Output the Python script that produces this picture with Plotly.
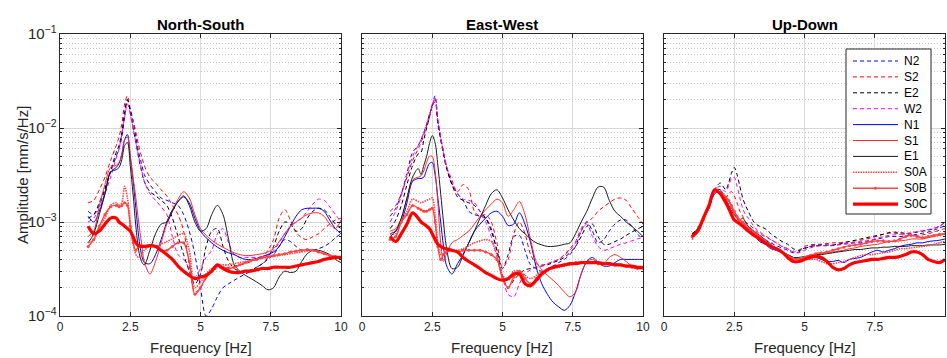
import plotly.graph_objects as go

# Frequency grid [Hz]
freq = [1.0, 1.2, 1.4, 1.6, 1.8, 2.0,
        2.1, 2.2, 2.3, 2.4, 2.5, 2.6, 2.7, 2.8, 2.9, 3.0,
        3.2, 3.4, 3.6, 3.8, 4.0, 4.2, 4.4, 4.6, 4.8, 5.0,
        5.2, 5.4, 5.6, 5.8, 6.0, 6.2, 6.4, 6.6, 6.8, 7.0,
        7.2, 7.4, 7.6, 7.8, 8.0, 8.2, 8.4, 8.6, 8.8, 9.0,
        9.2, 9.4, 9.6, 9.8, 10.0]

panel_titles = ["North-South", "East-West", "Up-Down"]
series_names = ["N2", "S2", "E2", "W2", "N1", "S1", "E1", "S0A", "S0B", "S0C"]
x_tick_vals = [0, 2.5, 5, 7.5, 10]
x_tick_text = ["0", "2.5", "5", "7.5", "10"]

# Amplitudes in units of 1e-3 mm/s/Hz
# ---------------- North-South ----------------
ns_N2 = [1.3, 1.2, 1.5, 2.2, 3.4, 5.0,
         6.0, 8.0, 13, 20, 16, 12, 8.0, 5.5, 4.2, 3.2,
         2.5, 2.1, 1.8, 1.7, 1.6, 1.5, 1.2, 0.8, 0.45, 0.2,
         0.1, 0.12, 0.16, 0.2, 0.22, 0.24, 0.26, 0.28, 0.3, 0.33,
         0.36, 0.4, 0.45, 0.55, 0.65, 0.62, 0.55, 0.5, 0.5, 0.5,
         0.52, 0.55, 0.6, 0.68, 0.75]
ns_S2 = [1.6, 1.7, 2.2, 3.0, 4.5, 6.5,
         8.0, 11, 18, 22, 15, 12, 9.0, 6.5, 5.0, 4.0,
         3.0, 2.6, 2.2, 1.9, 1.5, 1.2, 0.8, 0.35, 0.18, 0.2,
         0.25, 0.3, 0.32, 0.33, 0.33, 0.34, 0.35, 0.36, 0.38, 0.4,
         0.42, 0.5, 0.65, 1.1, 1.35, 1.05, 0.78, 0.68, 0.65, 0.7,
         0.75, 0.85, 0.95, 1.05, 1.1]
ns_E2 = [1.1, 1.2, 1.6, 2.3, 3.5, 5.5,
         6.5, 9.0, 15, 20, 15, 10, 7.0, 4.8, 3.5, 2.7,
         2.1, 1.9, 1.7, 1.5, 1.1, 0.7, 0.45, 0.3, 0.22, 0.28,
         0.55, 0.8, 0.85, 0.55, 0.38, 0.32, 0.3, 0.3, 0.31, 0.33,
         0.36, 0.42, 0.55, 0.8, 1.0, 0.95, 0.8, 0.85, 1.1, 1.3,
         1.4, 1.35, 1.15, 0.95, 0.85]
ns_W2 = [1.0, 1.1, 1.4, 2.0, 3.0, 4.8,
         6.0, 8.5, 13, 18, 14, 10, 7.0, 5.0, 3.6, 2.7,
         2.0, 1.7, 1.45, 1.2, 0.7, 0.45, 0.4, 0.32, 0.26, 0.32,
         0.42, 0.5, 0.75, 0.85, 0.6, 0.45, 0.42, 0.42, 0.42, 0.42,
         0.43, 0.45, 0.5, 0.6, 0.75, 0.9, 1.0, 1.1, 1.3, 1.55,
         1.75, 1.7, 1.45, 1.2, 1.0]
ns_N1 = [1.15, 1.0, 1.3, 2.0, 3.4, 3.8,
         4.2, 5.2, 7.5, 8.5, 5.0, 2.8, 1.4, 0.7, 0.45, 0.37,
         0.36, 0.45, 0.65, 1.0, 1.35, 1.65, 1.85, 1.6, 1.1, 0.8,
         0.68, 0.6, 0.54, 0.5, 0.47, 0.45, 0.42, 0.4, 0.4, 0.41,
         0.43, 0.45, 0.48, 0.55, 0.7, 0.9, 1.15, 1.35, 1.4, 1.4,
         1.4, 1.3, 1.05, 0.85, 0.75]
ns_S1 = [0.7, 0.8, 1.5, 2.5, 3.8, 4.0,
         4.3, 5.3, 7.5, 8.0, 5.0, 3.0, 1.8, 1.0, 0.6, 0.38,
         0.28, 0.38, 0.6, 0.95, 1.3, 1.75, 2.1, 1.8, 1.2, 0.85,
         0.72, 0.64, 0.58, 0.54, 0.5, 0.47, 0.45, 0.44, 0.44, 0.45,
         0.46, 0.48, 0.52, 0.62, 0.75, 0.9, 1.0, 1.1, 1.2, 1.25,
         1.25, 1.15, 0.95, 0.85, 1.05]
ns_E1 = [0.6, 0.75, 1.2, 2.0, 3.4, 3.6,
         3.8, 4.6, 6.5, 7.0, 4.0, 2.0, 0.9, 0.5, 0.38, 0.35,
         0.5, 0.75, 0.95, 1.0, 1.3, 1.65, 1.9, 1.5, 1.0, 0.8,
         0.85, 1.2, 1.5, 1.2, 0.65, 0.35, 0.3, 0.27, 0.25, 0.23,
         0.21, 0.19, 0.2, 0.26, 0.3, 0.29, 0.3, 0.38, 0.46, 0.5,
         0.5, 0.48, 0.45, 0.4, 0.37]
ns_S0A = [0.6, 0.65, 0.9, 1.1, 1.5, 1.6,
          1.5, 1.6, 2.4, 1.8, 1.0, 0.6, 0.45, 0.42, 0.45, 0.5,
          0.55, 0.55, 0.58, 0.62, 0.66, 0.72, 0.75, 0.5, 0.2, 0.23,
          0.28, 0.32, 0.34, 0.35, 0.35, 0.36, 0.37, 0.38, 0.39, 0.4,
          0.41, 0.42, 0.43, 0.44, 0.45, 0.46, 0.47, 0.48, 0.49, 0.5,
          0.48, 0.46, 0.44, 0.43, 0.42]
ns_S0B = [0.55, 0.65, 0.9, 1.2, 1.45, 1.5,
          1.45, 1.5, 1.6, 1.5, 0.9, 0.6, 0.5, 0.55, 0.55, 0.55,
          0.56, 0.55, 0.5, 0.5, 0.55, 0.6, 0.6, 0.38, 0.17, 0.2,
          0.26, 0.3, 0.34, 0.33, 0.32, 0.33, 0.35, 0.37, 0.39, 0.4,
          0.42, 0.43, 0.44, 0.45, 0.46, 0.48, 0.49, 0.5, 0.51, 0.5,
          0.48, 0.46, 0.44, 0.43, 0.42]
ns_S0C = [0.9, 0.75, 0.8, 0.95, 1.1, 1.1,
          1.0, 0.95, 0.9, 0.85, 0.8, 0.7, 0.6, 0.56, 0.55, 0.55,
          0.56, 0.55, 0.5, 0.45, 0.4, 0.34, 0.3, 0.27, 0.25, 0.26,
          0.27, 0.3, 0.35, 0.32, 0.3, 0.29, 0.29, 0.3, 0.3, 0.31,
          0.32, 0.32, 0.33, 0.33, 0.33, 0.33, 0.34, 0.35, 0.36, 0.37,
          0.38, 0.4, 0.41, 0.42, 0.42]

# ---------------- East-West ----------------
ew_N2 = [1.15, 1.4, 2.0, 3.3, 5.5, 6.5,
         7.5, 9.0, 11, 14, 17, 22, 12, 8.0, 5.5, 4.0,
         2.6, 2.0, 1.7, 1.3, 1.2, 1.15, 1.1, 0.85, 0.5, 0.32,
         0.45, 0.7, 0.72, 0.5, 0.35, 0.32, 0.3, 0.32, 0.34, 0.37,
         0.4, 0.45, 0.55, 0.8, 1.0, 0.8, 0.6, 0.65, 0.8, 0.95,
         1.05, 1.05, 0.9, 0.75, 0.65]
ew_S2 = [1.3, 1.5, 2.0, 3.0, 4.5, 6.0,
         7.0, 8.5, 10.5, 13, 18, 20, 12, 8.0, 5.5, 4.0,
         2.5, 2.1, 2.5, 2.2, 1.3, 1.15, 1.2, 1.0, 0.6, 0.33,
         0.4, 0.75, 1.0, 0.75, 0.45, 0.36, 0.35, 0.36, 0.38, 0.4,
         0.45, 0.52, 0.62, 0.85, 1.0, 1.1, 1.3, 1.45, 1.6, 1.75,
         1.8, 1.7, 1.4, 1.15, 0.95]
ew_E2 = [0.85, 1.05, 1.5, 2.5, 4.0, 5.3,
         5.5, 7.5, 10, 13, 17, 19, 11, 7.5, 5.2, 3.8,
         2.5, 1.85, 1.7, 1.6, 1.5, 1.3, 1.1, 0.8, 0.5, 0.27,
         0.2, 0.24, 0.28, 0.31, 0.32, 0.33, 0.34, 0.35, 0.37, 0.39,
         0.42, 0.47, 0.55, 0.7, 0.9, 0.95, 0.7, 0.58, 0.58, 0.62,
         0.66, 0.72, 0.78, 0.84, 0.9]
ew_W2 = [1.0, 1.3, 1.9, 3.2, 5.0, 6.5,
         7.5, 9.0, 11, 14, 17, 21, 12, 8.0, 5.5, 4.0,
         2.8, 2.0, 1.75, 1.7, 1.6, 1.3, 1.0, 0.7, 0.42, 0.26,
         0.17, 0.16, 0.22, 0.28, 0.31, 0.33, 0.34, 0.36, 0.38, 0.4,
         0.44, 0.5, 0.6, 0.8, 0.95, 0.7, 0.55, 0.5, 0.52, 0.55,
         0.58, 0.6, 0.63, 0.66, 0.68]
ew_N1 = [0.75, 0.8, 1.0, 1.6, 2.7, 2.9,
         2.9, 3.0, 3.6, 4.2, 4.3, 3.2, 1.8, 1.0, 0.55, 0.35,
         0.28, 0.36, 0.45, 0.6, 0.8, 0.95, 1.1, 1.25, 1.3, 1.15,
         0.92, 0.95, 1.25, 0.95, 0.6, 0.33, 0.22, 0.17, 0.14, 0.125,
         0.115, 0.13, 0.18, 0.28, 0.38, 0.42, 0.37, 0.34, 0.34, 0.37,
         0.4, 0.4, 0.4, 0.4, 0.4]
ew_S1 = [0.8, 0.85, 1.1, 1.8, 2.8, 3.0,
         3.1, 3.5, 4.3, 5.0, 5.0, 3.5, 1.6, 0.6, 0.38, 0.45,
         0.6, 0.65, 0.72, 0.8, 0.95, 1.15, 1.35, 1.55, 1.75, 1.6,
         1.15, 1.35, 1.65, 1.2, 0.65, 0.38, 0.31, 0.27, 0.24, 0.21,
         0.18, 0.16, 0.18, 0.28, 0.38, 0.4, 0.37, 0.36, 0.42, 0.45,
         0.42, 0.38, 0.34, 0.32, 0.32]
ew_E1 = [0.7, 0.8, 1.1, 1.8, 3.0, 3.7,
         3.2, 4.0, 5.0, 6.8, 8.3, 7.0, 4.0, 2.0, 1.0, 0.55,
         0.32, 0.33, 0.45, 0.6, 0.8, 1.1, 1.5, 2.0, 2.2, 1.8,
         1.35, 1.05, 0.85, 0.75, 0.66, 0.6, 0.57, 0.55, 0.55, 0.56,
         0.58, 0.6, 0.75, 1.0, 1.3, 1.8, 2.35, 2.35, 1.7, 1.3,
         1.15, 1.0, 0.9, 0.8, 0.7]
ew_S0A = [0.75, 0.75, 1.0, 1.3, 1.75, 1.65,
          1.6, 1.65, 1.7, 1.75, 1.8, 1.2, 0.6, 0.45, 0.45, 0.48,
          0.5, 0.5, 0.52, 0.56, 0.6, 0.63, 0.65, 0.62, 0.45, 0.27,
          0.24, 0.3, 0.3, 0.27, 0.25, 0.27, 0.3, 0.31, 0.32, 0.33,
          0.34, 0.35, 0.36, 0.37, 0.37, 0.37, 0.37, 0.36, 0.36, 0.36,
          0.35, 0.34, 0.34, 0.33, 0.33]
ew_S0B = [0.65, 0.7, 1.0, 1.2, 1.5, 1.4,
          1.35, 1.3, 1.3, 1.35, 1.4, 1.0, 0.55, 0.4, 0.45, 0.48,
          0.5, 0.48, 0.5, 0.5, 0.5, 0.5, 0.48, 0.45, 0.4, 0.25,
          0.2, 0.26, 0.3, 0.25, 0.22, 0.25, 0.29, 0.31, 0.33, 0.34,
          0.35, 0.36, 0.37, 0.37, 0.37, 0.37, 0.36, 0.36, 0.36, 0.35,
          0.35, 0.34, 0.33, 0.32, 0.32]
ew_S0C = [0.7, 0.62, 0.75, 0.95, 1.25, 1.1,
          1.0, 0.95, 0.9, 0.85, 0.75, 0.65, 0.58, 0.55, 0.53, 0.52,
          0.5, 0.48, 0.42, 0.38, 0.35, 0.32, 0.29, 0.27, 0.25, 0.24,
          0.25, 0.28, 0.28, 0.22, 0.21, 0.24, 0.28, 0.31, 0.33, 0.34,
          0.35, 0.36, 0.36, 0.37, 0.37, 0.37, 0.37, 0.36, 0.36, 0.35,
          0.35, 0.34, 0.34, 0.33, 0.33]

# ---------------- Up-Down ----------------
ud_N2 = [0.75, 0.85, 1.1, 1.4, 2.0, 2.1,
         1.9, 1.7, 1.55, 1.4, 1.3, 1.15, 1.05, 1.0, 0.95, 0.9,
         0.8, 0.72, 0.65, 0.6, 0.56, 0.53, 0.5, 0.47, 0.48, 0.53,
         0.55, 0.56, 0.56, 0.56, 0.56, 0.57, 0.58, 0.59, 0.6, 0.6,
         0.62, 0.64, 0.66, 0.68, 0.7, 0.7, 0.7, 0.71, 0.72, 0.74,
         0.76, 0.78, 0.82, 0.86, 0.92]
ud_S2 = [0.7, 0.85, 1.1, 1.5, 2.1, 2.0,
         1.9, 1.8, 2.0, 2.1, 1.9, 1.6, 1.3, 1.15, 1.0, 0.95,
         0.85, 0.75, 0.7, 0.65, 0.6, 0.55, 0.52, 0.48, 0.5, 0.55,
         0.57, 0.58, 0.58, 0.59, 0.6, 0.6, 0.61, 0.62, 0.63, 0.64,
         0.66, 0.68, 0.71, 0.74, 0.76, 0.76, 0.75, 0.74, 0.73, 0.72,
         0.73, 0.75, 0.78, 0.82, 0.85]
ud_E2 = [0.75, 0.85, 1.1, 1.5, 2.2, 2.6,
         2.4, 2.2, 2.6, 3.3, 3.8, 3.2, 2.4, 1.8, 1.5, 1.3,
         1.0, 0.9, 0.85, 0.75, 0.68, 0.62, 0.58, 0.52, 0.5, 0.52,
         0.55, 0.56, 0.57, 0.57, 0.57, 0.58, 0.6, 0.62, 0.64, 0.66,
         0.68, 0.7, 0.72, 0.74, 0.77, 0.78, 0.77, 0.76, 0.76, 0.78,
         0.8, 0.82, 0.85, 0.9, 1.0]
ud_W2 = [0.7, 0.85, 1.1, 1.5, 2.2, 2.4,
         2.2, 2.1, 2.4, 2.9, 3.0, 2.4, 1.8, 1.4, 1.2, 1.1,
         0.9, 0.78, 0.72, 0.65, 0.6, 0.55, 0.52, 0.48, 0.47, 0.5,
         0.53, 0.55, 0.56, 0.56, 0.57, 0.58, 0.59, 0.6, 0.61, 0.62,
         0.63, 0.65, 0.67, 0.7, 0.72, 0.73, 0.74, 0.75, 0.77, 0.79,
         0.81, 0.83, 0.86, 0.9, 0.98]
ud_N1 = [0.72, 0.8, 1.1, 1.4, 2.0, 2.1,
         1.9, 1.7, 1.5, 1.3, 1.2, 1.1, 1.0, 0.95, 0.9, 0.85,
         0.75, 0.62, 0.58, 0.52, 0.5, 0.47, 0.45, 0.42, 0.4, 0.42,
         0.43, 0.42, 0.4, 0.38, 0.38, 0.39, 0.37, 0.4, 0.41, 0.42,
         0.45, 0.48, 0.5, 0.48, 0.5, 0.52, 0.55, 0.57, 0.58, 0.6,
         0.6, 0.62, 0.63, 0.64, 0.66]
ud_S1 = [0.7, 0.85, 1.1, 1.5, 2.1, 2.0,
         1.9, 1.8, 1.7, 1.5, 1.2, 1.1, 1.0, 0.95, 0.9, 0.85,
         0.78, 0.7, 0.62, 0.56, 0.52, 0.48, 0.43, 0.4, 0.4, 0.42,
         0.44, 0.45, 0.46, 0.47, 0.48, 0.49, 0.5, 0.52, 0.53, 0.55,
         0.56, 0.57, 0.58, 0.6, 0.62, 0.62, 0.63, 0.64, 0.66, 0.66,
         0.66, 0.68, 0.7, 0.72, 0.74]
ud_E1 = [0.72, 0.85, 1.1, 1.5, 2.2, 2.2,
         2.0, 1.7, 1.5, 1.3, 1.2, 1.1, 1.05, 1.1, 1.0, 0.9,
         0.8, 0.72, 0.65, 0.58, 0.52, 0.48, 0.45, 0.42, 0.42, 0.43,
         0.44, 0.45, 0.45, 0.46, 0.47, 0.48, 0.49, 0.5, 0.51, 0.51,
         0.52, 0.53, 0.53, 0.54, 0.54, 0.55, 0.55, 0.55, 0.56, 0.56,
         0.56, 0.57, 0.57, 0.57, 0.58]
ud_S0A = [0.65, 0.85, 1.1, 1.5, 2.2, 2.0,
          1.9, 1.8, 1.6, 1.4, 1.2, 1.1, 1.0, 0.95, 0.9, 0.85,
          0.76, 0.68, 0.62, 0.56, 0.52, 0.48, 0.44, 0.41, 0.4, 0.4,
          0.4, 0.4, 0.38, 0.36, 0.36, 0.37, 0.38, 0.4, 0.42, 0.44,
          0.45, 0.45, 0.46, 0.47, 0.48, 0.5, 0.52, 0.52, 0.53, 0.54,
          0.55, 0.56, 0.58, 0.6, 0.62]
ud_S0B = [0.7, 0.8, 1.05, 1.45, 2.1, 2.05,
          1.95, 1.85, 1.7, 1.5, 1.3, 1.15, 1.05, 1.0, 0.92, 0.86,
          0.78, 0.7, 0.63, 0.57, 0.52, 0.48, 0.44, 0.41, 0.4, 0.42,
          0.44, 0.46, 0.47, 0.48, 0.5, 0.52, 0.54, 0.56, 0.57, 0.58,
          0.6, 0.62, 0.63, 0.63, 0.62, 0.63, 0.66, 0.7, 0.72, 0.7,
          0.68, 0.7, 0.72, 0.74, 0.75]
ud_S0C = [0.7, 0.8, 1.1, 1.5, 2.2, 2.0,
          1.8, 1.6, 1.4, 1.2, 1.05, 1.0, 0.95, 0.9, 0.85, 0.8,
          0.72, 0.66, 0.6, 0.55, 0.52, 0.48, 0.42, 0.38, 0.38, 0.4,
          0.42, 0.43, 0.42, 0.38, 0.33, 0.31, 0.32, 0.35, 0.37, 0.38,
          0.39, 0.4, 0.4, 0.41, 0.42, 0.42, 0.43, 0.45, 0.48, 0.48,
          0.45, 0.4, 0.38, 0.37, 0.4]

panels = [
    [ns_N2, ns_S2, ns_E2, ns_W2, ns_N1, ns_S1, ns_E1, ns_S0A, ns_S0B, ns_S0C],
    [ew_N2, ew_S2, ew_E2, ew_W2, ew_N1, ew_S1, ew_E1, ew_S0A, ew_S0B, ew_S0C],
    [ud_N2, ud_S2, ud_E2, ud_W2, ud_N1, ud_S1, ud_E1, ud_S0A, ud_S0B, ud_S0C],
]

DASH = "4px,3px"
styles = {
    "N2": dict(color="#0000ff", width=1, dash=DASH),
    "S2": dict(color="#ff0000", width=1, dash=DASH),
    "E2": dict(color="#000000", width=1, dash=DASH),
    "W2": dict(color="#ff00ff", width=1, dash=DASH),
    "N1": dict(color="#0000ff", width=1, dash="solid"),
    "S1": dict(color="#ff2a2a", width=1, dash="solid"),
    "E1": dict(color="#1a1a1a", width=1, dash="solid"),
    "S0A": dict(color="#ff4444", width=1.6, dash="1.5px,1px"),
    "S0B": dict(color="#ff4444", width=1.4, dash="solid"),
    "S0C": dict(color="#ff0000", width=3.2, dash="solid"),
}

W, H = 947, 358
def px_x(x):
    return x / W
def px_y(y):
    return (H - y) / H

fig = go.Figure()
for p, series in enumerate(panels):
    ax = "" if p == 0 else str(p + 1)
    for name, vals in zip(series_names, series):
        st = styles[name]
        mode = "lines+markers" if name == "S0B" else "lines"
        fig.add_trace(go.Scatter(
            x=freq, y=[v * 1e-3 for v in vals], name=name, mode=mode,
            line=dict(color=st["color"], width=st["width"], dash=st["dash"],
                      shape="spline", smoothing=0.9),
            marker=dict(size=3, color=st["color"]),
            xaxis="x" + ax, yaxis="y" + ax, showlegend=False,
        ))

x_domains = [[px_x(60), px_x(341)], [px_x(362), px_x(643)], [px_x(664), px_x(945)]]
y_domain = [px_y(316), px_y(34)]
AX = "#262626"
FONT = "Liberation Sans, Arial, Helvetica, sans-serif"

layout = dict(
    width=W, height=H,
    margin=dict(l=0, r=0, t=0, b=0, autoexpand=False),
    paper_bgcolor="white", plot_bgcolor="white",
    font=dict(family=FONT, color=AX, size=12),
    showlegend=False,
    annotations=[], shapes=[],
)
for p in range(3):
    sfx = "" if p == 0 else str(p + 1)
    layout["xaxis" + sfx] = dict(
        domain=x_domains[p], anchor="y" + sfx, range=[0, 10], automargin=False,
        tickvals=x_tick_vals, ticktext=x_tick_text,
        showline=True, linecolor=AX, linewidth=1, mirror="allticks",
        ticks="inside", ticklen=4, tickcolor=AX, tickfont=dict(size=12, color=AX),
        showgrid=True, gridcolor="#dcdcdc", gridwidth=1, zeroline=False,
    )
    layout["yaxis" + sfx] = dict(
        domain=y_domain, anchor="x" + sfx, type="log", range=[-4, -1], automargin=False,
        dtick=1, exponentformat="power", showexponent="all",
        showline=True, linecolor=AX, linewidth=1, mirror="allticks",
        ticks="inside", ticklen=4, tickcolor=AX, tickfont=dict(size=12, color=AX),
        showgrid=True, gridcolor="#d6d6d6", gridwidth=1, zeroline=False,
        showticklabels=(p == 0),
        minor=dict(dtick="D1", ticks="inside", ticklen=2, tickcolor=AX,
                   showgrid=True, gridcolor="#c4c4c4", griddash="1px,2px", gridwidth=1),
    )
    xc = (x_domains[p][0] + x_domains[p][1]) / 2
    layout["annotations"].append(dict(
        text="<b>" + panel_titles[p] + "</b>", x=xc, y=px_y(24),
        xref="paper", yref="paper", showarrow=False, xanchor="center", yanchor="middle",
        font=dict(size=15, color="#000000", family=FONT)))
    layout["annotations"].append(dict(
        text="Frequency [Hz]", x=xc, y=px_y(347),
        xref="paper", yref="paper", showarrow=False, xanchor="center", yanchor="middle",
        font=dict(size=15, color=AX, family=FONT)))

layout["annotations"].append(dict(
    text="Amplitude [mm/s/Hz]", x=px_x(22), y=px_y(175), textangle=-90,
    xref="paper", yref="paper", showarrow=False, xanchor="center", yanchor="middle",
    font=dict(size=15, color=AX, family=FONT)))

# Legend box (MATLAB-style) in the Up-Down panel
LEG_X0, LEG_X1, LEG_Y0, LEG_Y1 = 846, 931, 49, 214
layout["shapes"].append(dict(
    type="rect", xref="paper", yref="paper", layer="above",
    x0=px_x(LEG_X0), x1=px_x(LEG_X1), y0=px_y(LEG_Y1), y1=px_y(LEG_Y0),
    fillcolor="white", line=dict(color=AX, width=1)))
for i, name in enumerate(series_names):
    st = styles[name]
    yy = 61 + i * 15.9
    layout["shapes"].append(dict(
        type="line", xref="paper", yref="paper", layer="above",
        x0=px_x(853), x1=px_x(898), y0=px_y(yy), y1=px_y(yy),
        line=dict(color=st["color"], width=st["width"], dash=st["dash"])))
    if name == "S0B":
        layout["shapes"].append(dict(
            type="circle", xref="paper", yref="paper", layer="above",
            x0=px_x(874), x1=px_x(877), y0=px_y(yy + 1.5), y1=px_y(yy - 1.5),
            fillcolor=st["color"], line=dict(color=st["color"], width=0)))
    layout["annotations"].append(dict(
        text=name, x=px_x(902), y=px_y(yy), xref="paper", yref="paper",
        showarrow=False, xanchor="left", yanchor="middle",
        font=dict(size=12, color="#000000", family=FONT)))

fig.update_layout(**layout)
fig.write_html(
    "out.html",
    config={"displayModeBar": False},
    post_script="document.body.style.margin='0';document.body.style.padding='0';"
                "document.body.style.overflow='hidden';",
)
